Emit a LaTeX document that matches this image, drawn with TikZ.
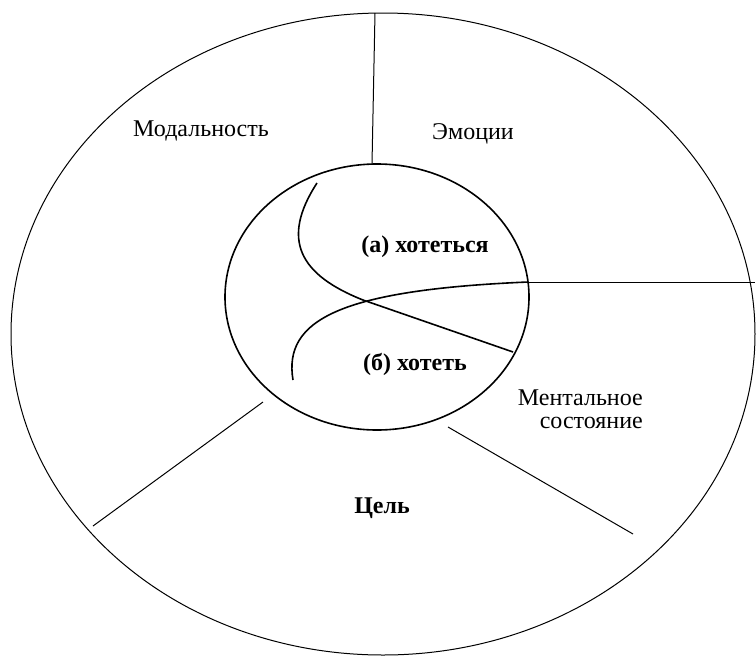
\documentclass[tikz,border=0pt]{standalone}
\usepackage{fontspec}
\setmainfont{Liberation Serif}
\begin{document}
\begin{tikzpicture}[x=1pt,y=-1pt,
  thin line/.style={line width=1pt},
  thick line/.style={line width=1.6pt},
  lbl/.style={font=\fontsize{24}{26}\selectfont, inner sep=0pt},
  blbl/.style={font=\fontsize{24}{26}\selectfont\bfseries, inner sep=0pt}]
\useasboundingbox (0,0) rectangle (756,657);
% outer ellipse
\coordinate (oc) at (383,334);
\draw[thin line] (oc) ellipse [x radius=372pt, y radius=321pt];
% inner ellipse
\coordinate (ic) at (377,297);
\draw[thick line] (ic) ellipse [x radius=152pt, y radius=133pt];
% dividers
\coordinate (vtop) at (375,13);
\coordinate (vbot) at (372,164);
\draw[thin line] (vtop) -- (vbot);
\coordinate (rin) at (528,282);
\coordinate (rout) at (755,282);
\draw[thin line] (rin) -- (rout);
\coordinate (llin) at (263,402);
\coordinate (llout) at (93,526);
\draw[thin line] (llin) -- (llout);
\coordinate (lrin) at (448,427);
\coordinate (lrout) at (633,534);
\draw[thin line] (lrin) -- (lrout);
% inner curves
\coordinate (c1s) at (317,183);
\coordinate (cx) at (363,300);
\coordinate (c1e) at (513,352);
\draw[thick line] (c1s) .. controls (280,240) and (300,275) .. (cx) -- (c1e);
\coordinate (c2s) at (293,380);
\draw[thick line] (c2s) .. controls (283,320) and (340,290) .. (rin);
% labels
\node[lbl] (mod) at (201,131) {Модальность};
\node[lbl] (emo) at (473,134) {Эмоции};
\node[lbl, anchor=east] (ment1) at (643,398) {Ментальное};
\node[lbl, anchor=east] (ment2) at (643,423) {состояние};
\node[blbl] (goal) at (382,508) {Цель};
\node[blbl] (a) at (425,247) {(а) хотеться};
\node[blbl] (b) at (415,364) {(б) хотеть};
\end{tikzpicture}
\end{document}
